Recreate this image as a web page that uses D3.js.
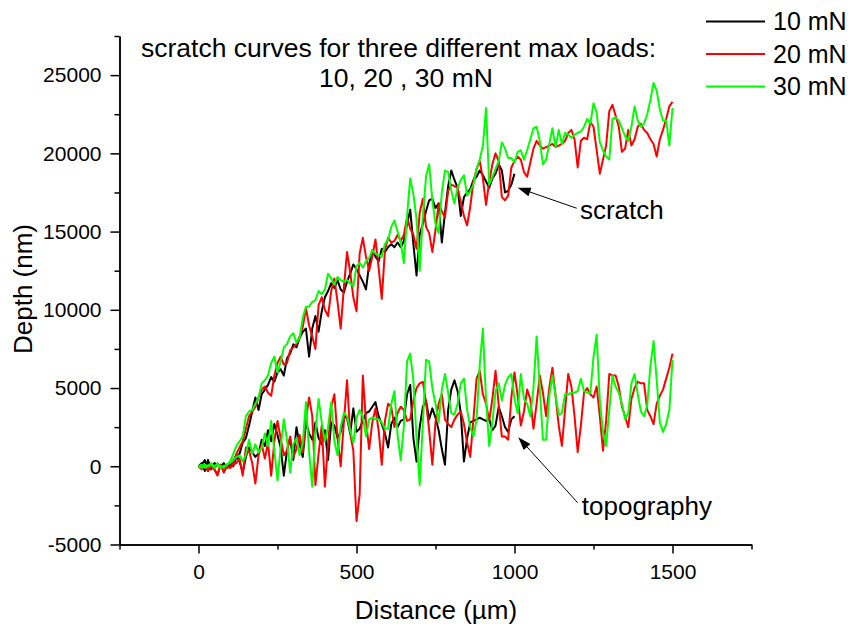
<!DOCTYPE html>
<html>
<head>
<meta charset="utf-8">
<script src="https://cdn.jsdelivr.net/npm/d3@7/dist/d3.min.js"></script>
<style>
  html, body { margin: 0; padding: 0; background: #fff; }
  svg { display: block; font-family: "Liberation Sans", Arial, sans-serif; }
</style>
</head>
<body>
<svg id="chart" width="854" height="626"></svg>
<script>
// Sampling interval of the profiles along the scratch track (µm)
const STEP = 10;

// Scratch depth profiles (nm), one sample every STEP µm
const scratch10 = [
  0,200,-300,400,-200,200,100,0,200,-100,
  100,0,600,800,1500,1800,2600,3500,4400,3600,
  4600,4900,5200,5700,5400,6000,6200,5800,6900,7200,
  7800,7600,8200,8600,8800,7000,8800,9600,8600,9900,
  10800,11200,11700,11400,11900,11300,11100,11800,12300,12900,
  12600,12200,11800,11300,12900,13800,13400,13100,13900,13700,
  14000,14200,14000,14300,14000,14400,15500,16400,14200,12200,
  14800,15500,16300,17000,17100,16500,16800,14300,16200,17900,
  18900,18300,17800,16000,17200,17500,17700,18300,18500,18900,
  18600,18200,17800,18400,18700,19300,18900,17500,17600,18000,
  18700
];
const scratch20 = [
  0,-100,100,-300,0,-200,-500,100,-400,0,
  -100,200,800,1200,1600,2400,3200,3500,3800,4400,
  4900,5100,4700,4500,5800,6600,7000,6500,6600,7400,
  7600,7800,8300,8900,10100,9000,8300,7500,10300,10800,
  10000,9600,11200,12000,10500,8800,11400,13700,12400,10800,
  9900,13600,14600,13400,12500,13400,14500,12700,10700,13800,
  14600,14300,14400,14800,14400,14800,15900,15200,14800,13900,
  16200,17100,15300,14900,13700,15100,16800,16300,15900,17600,
  18000,17900,17800,16900,16000,15400,16600,18200,19000,19500,
  18400,16700,18200,19300,20000,19500,17200,17000,17300,19100,
  19500,19800,19600,18800,18500,19400,20300,20800,20500,20300,
  20400,20500,20600,20400,20500,20600,20800,21300,21500,20900,
  19100,20800,21000,20900,22000,21700,20200,18700,19600,20500,
  22700,23100,22400,21700,20100,20300,21500,20500,20900,21700,
  21900,21500,21300,20900,20600,19800,20900,21500,22200,23000,
  23300
];
const scratch30 = [
  0,100,-100,0,100,-100,200,0,-100,100,
  300,800,1300,1600,1900,3200,3500,3600,4000,4400,
  5300,5500,5800,6600,7000,6000,6700,7600,7800,8300,
  8500,7900,8200,9500,10200,10200,10500,10600,11200,11000,
  11300,12300,12000,11600,12100,11900,11800,11900,11700,11500,
  12800,13000,12700,13100,13300,13800,13600,13500,13400,14200,
  14500,15300,15700,15000,14300,13000,16000,18400,17400,15800,
  12500,16000,18500,19300,17000,15500,14900,17500,18900,18800,
  17600,16800,17800,18300,18600,17300,17600,18000,19000,19600,
  20500,22900,18000,18500,19000,19500,20700,20300,19700,19700,
  19400,20100,20200,19600,20200,20900,21600,21700,20800,19300,
  19600,20600,21600,20400,21500,20600,21300,21200,21000,21200,
  21300,21400,21700,22200,21900,23200,22600,20700,20200,19800,
  19600,22200,22300,22100,21600,21100,20800,21700,23000,22100,
  21700,21900,22500,23400,24500,24000,22800,22100,22100,20500,
  22900
];

// Post-scratch topography profiles (nm), one sample every STEP µm
const topo10 = [
  0,100,400,-300,100,-100,100,0,-200,100,
  0,400,700,300,-400,600,1200,900,600,800,
  1700,1300,2300,1600,2700,2000,1200,-600,1000,1800,
  400,2500,1400,600,2800,2100,1700,2800,1800,1400,
  2300,400,2800,2600,1800,2200,3200,3100,2100,3700,
  2200,2400,2900,3400,3500,3800,4100,3200,2700,2100,
  1200,2700,3100,2500,2900,3000,4600,5200,1800,300,
  2500,3800,4200,3000,3700,3100,2300,1100,100,3600,
  4900,5500,4800,3400,300,1800,2800,2900,3000,3100,
  3000,2900,3000,2300,2600,3800,3200,2500,2200,3000,
  3200
];
const topo20 = [
  0,-200,100,-100,0,-200,-600,100,-300,0,
  -100,100,200,500,-600,1200,1000,200,-1100,700,
  1400,500,1500,-600,1600,2900,1800,700,1000,1900,
  600,1100,2000,900,3000,4400,3200,-1200,800,2600,
  -1300,1400,3800,4600,1800,0,2800,5500,2100,1000,
  -3500,-1800,5800,2900,1100,2800,3700,2300,100,2900,
  4000,3800,2500,3400,3800,3600,2900,3000,4200,5000,
  5300,5400,4100,2300,100,2800,4000,4600,3000,2700,
  2500,3000,3300,3500,2700,1500,600,3000,5600,6100,
  4600,4000,2900,4300,6100,3900,1900,1900,1700,4400,
  6000,4500,2600,3500,4900,4300,2400,4000,5800,4700,
  3200,5000,6300,4500,2600,1300,3600,5900,5100,3200,
  900,2600,4700,5000,4600,4400,5100,3200,1000,2900,
  5900,5800,5800,5100,3800,3200,2500,4300,5000,5400,
  5300,5300,3600,3200,2700,4000,4500,4900,5600,6300,
  7200
];
const topo30 = [
  0,-100,100,0,200,0,100,-100,0,100,
  200,400,600,700,300,700,1700,800,1400,900,
  1200,2100,1300,2900,1000,-900,1200,3000,1700,-400,
  1400,1800,700,1500,4100,900,-1300,2200,4300,2800,
  1600,2500,4100,1600,700,2500,3400,3200,2300,1500,
  3100,3600,3200,1900,3000,3100,3000,3000,2800,2400,
  2400,4000,4800,2000,400,2600,6700,7200,5500,1800,
  -1200,2800,6800,6700,5000,4000,2800,4900,5900,4700,
  3400,3300,4000,5300,5600,3600,2500,1900,3000,6500,
  8800,4200,1300,2800,4800,5300,4200,5200,5700,5900,
  4300,3400,5900,4300,4000,3200,5000,8300,5000,1700,
  1700,4500,5800,4500,3300,3400,4600,4600,4700,4700,
  4800,5600,4800,4700,4700,7000,8400,4200,2200,1300,
  3600,5800,5100,4700,4000,3000,3400,5300,5900,4600,
  3500,3200,3900,6400,8000,5500,2800,2200,2700,3600,
  6800
];

// Loads and their colours (legend order)
const loads = ["10 mN", "20 mN", "30 mN"];
const colors = ["#000000", "#ff0000", "#00ff00"];
const scratchSeries = [scratch10, scratch20, scratch30];
const topoSeries = [topo10, topo20, topo30];

// Axis ticks
const xMajor = [0, 500, 1000, 1500];
const xMinor = [-250, 250, 750, 1250, 1750];
const yMajor = [-5000, 0, 5000, 10000, 15000, 20000, 25000];
const yMinor = [-2500, 2500, 7500, 12500, 17500, 22500, 27500];

const titleLines = ["scratch curves for three different max loads:", "10, 20 , 30 mN"];

const svg = d3.select("#chart");
const FONT = "'Liberation Sans', Arial, sans-serif";
const plainNumber = d => String(d);

const x = d3.scaleLinear().domain([-250, 1750]).range([119.5, 751.5]);
const y = d3.scaleLinear().domain([-5000, 27500]).range([544.5, 36]);

// Axes
function styleAxis(g) {
  g.selectAll("path.domain").attr("stroke", "#000").attr("stroke-width", 1.5);
  g.selectAll(".tick line").attr("stroke", "#000").attr("stroke-width", 1.5);
  g.selectAll(".tick text").attr("fill", "#000").style("font-family", FONT).style("font-size", "21px");
}
svg.append("g").attr("transform", "translate(0,544.5)")
  .call(d3.axisBottom(x).tickValues(xMinor).tickSize(5).tickSizeOuter(0).tickFormat(""))
  .call(styleAxis);
svg.append("g").attr("transform", "translate(0,544.5)")
  .call(d3.axisBottom(x).tickValues(xMajor).tickSize(9).tickSizeOuter(0).tickPadding(11).tickFormat(plainNumber))
  .call(styleAxis);
svg.append("g").attr("transform", "translate(119.5,0)")
  .call(d3.axisLeft(y).tickValues(yMinor).tickSize(5).tickSizeOuter(0).tickFormat(""))
  .call(styleAxis);
svg.append("g").attr("transform", "translate(119.5,0)")
  .call(d3.axisLeft(y).tickValues(yMajor).tickSize(9).tickSizeOuter(0).tickPadding(9).tickFormat(plainNumber))
  .call(styleAxis);

// Axis titles
svg.append("text").attr("x", 436).attr("y", 619).attr("text-anchor", "middle")
  .style("font-size", "26px").text("Distance (\u00b5m)");
svg.append("text").attr("transform", "translate(32,289) rotate(-90)").attr("text-anchor", "middle")
  .style("font-size", "26px").text("Depth (nm)");

// Profiles
const line = d3.line().x((d, i) => x(i * STEP)).y(d => y(d));
const plot = svg.append("g");
[0, 1, 2].forEach(k => {
  [scratchSeries[k], topoSeries[k]].forEach(series => {
    plot.append("path").datum(series)
      .attr("fill", "none").attr("stroke", colors[k])
      .attr("stroke-width", 2).attr("stroke-linejoin", "round")
      .attr("d", line);
  });
});

// Title
svg.append("text").attr("x", 141).attr("y", 57).style("font-size", "26.5px").text(titleLines[0]);
svg.append("text").attr("x", 406).attr("y", 87).attr("text-anchor", "middle").style("font-size", "26.5px").text(titleLines[1]);

// Legend
const legend = svg.append("g");
loads.forEach((name, i) => {
  const ly = 21.5 + i * 32.5;
  legend.append("line").attr("x1", 706).attr("x2", 765).attr("y1", ly).attr("y2", ly)
    .attr("stroke", colors[i]).attr("stroke-width", 2);
  legend.append("text").attr("x", 773).attr("y", ly + 8.8).style("font-size", "25px").text(name);
});

// Annotations with arrows
const notes = [
  { label: "scratch", tip: [1010, 17800], tail: [1197, 16490], text: [1207, 15800] },
  { label: "topography", tip: [1012, 1850], tail: [1200, -2330], text: [1213, -3110] }
];
notes.forEach(n => {
  const tx = x(n.tip[0]), ty = y(n.tip[1]);
  const sx = x(n.tail[0]), sy = y(n.tail[1]);
  const ang = Math.atan2(ty - sy, tx - sx);
  const len = 13, half = 4.5;
  const bx = tx - len * Math.cos(ang), by = ty - len * Math.sin(ang);
  svg.append("line").attr("x1", sx).attr("y1", sy).attr("x2", bx).attr("y2", by)
    .attr("stroke", "#000").attr("stroke-width", 1);
  svg.append("path")
    .attr("d", `M${tx},${ty}L${bx - half * Math.sin(ang)},${by + half * Math.cos(ang)}L${bx + half * Math.sin(ang)},${by - half * Math.cos(ang)}Z`)
    .attr("fill", "#000");
  svg.append("text").attr("x", x(n.text[0])).attr("y", y(n.text[1]))
    .style("font-size", "26px").text(n.label);
});
</script>
</body>
</html>
